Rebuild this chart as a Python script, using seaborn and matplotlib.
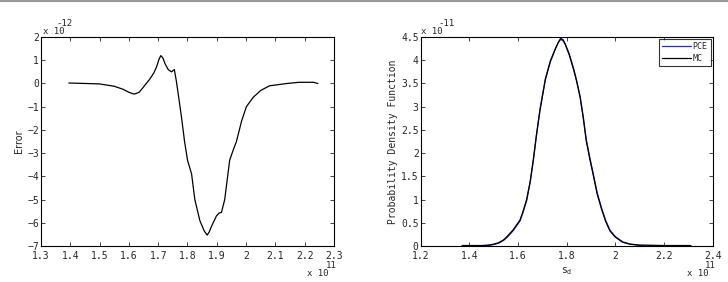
import numpy as np
import pandas as pd
import matplotlib
matplotlib.use("Agg")
import matplotlib.pyplot as plt
import seaborn as sns

# Left panel: error curve (x in units of 1e11, y in units of 1e-12)
err_x = [1.395, 1.45, 1.50, 1.55, 1.58, 1.60, 1.618, 1.635, 1.65, 1.672, 1.685, 1.694,
         1.703, 1.709, 1.716, 1.723, 1.734, 1.745, 1.755, 1.762, 1.77, 1.78, 1.79,
         1.80, 1.814, 1.825, 1.842, 1.857, 1.867, 1.874, 1.882, 1.899, 1.908, 1.916,
         1.927, 1.936, 1.944, 1.955, 1.967, 1.985, 2.001, 2.024, 2.05, 2.08, 2.14,
         2.18, 2.23, 2.245]
err_y = [0.02, 0.0, -0.02, -0.12, -0.25, -0.38, -0.46, -0.38, -0.15, 0.2, 0.45, 0.7,
         1.05, 1.2, 1.1, 0.86, 0.6, 0.5, 0.6, 0.1, -0.6, -1.5, -2.5,
         -3.3, -3.9, -5.0, -5.9, -6.35, -6.53, -6.4, -6.15, -5.7, -5.58, -5.55,
         -5.0, -4.1, -3.3, -2.9, -2.5, -1.6, -1.0, -0.6, -0.3, -0.1, 0.0,
         0.05, 0.05, 0.0]

# Right panel: PDFs (x in units of 1e11, y in units of 1e-11)
pdf_x = [1.37, 1.45, 1.478, 1.50, 1.52, 1.54, 1.554, 1.58, 1.608, 1.62, 1.635, 1.65,
         1.663, 1.675, 1.69, 1.712, 1.732, 1.753, 1.765, 1.775, 1.785, 1.793, 1.81,
         1.828, 1.84, 1.855, 1.868, 1.88, 1.895, 1.91, 1.925, 1.944, 1.96, 1.978,
         2.0, 2.03, 2.06, 2.1, 2.2, 2.31]
pce_y = [0.0, 0.0, 0.01, 0.03, 0.06, 0.12, 0.18, 0.33, 0.54, 0.72, 0.97, 1.38,
         1.85, 2.35, 2.95, 3.6, 3.98, 4.25, 4.38, 4.45, 4.42, 4.35, 4.14,
         3.83, 3.58, 3.22, 2.78, 2.3, 1.9, 1.53, 1.15, 0.8, 0.55, 0.34,
         0.2, 0.09, 0.04, 0.01, 0.0, 0.0]
mc_y = [0.01, 0.01, 0.02, 0.04, 0.07, 0.13, 0.2, 0.35, 0.56, 0.74, 1.0, 1.4,
        1.88, 2.38, 2.92, 3.58, 3.96, 4.24, 4.38, 4.47, 4.44, 4.36, 4.12,
        3.8, 3.56, 3.2, 2.75, 2.27, 1.87, 1.5, 1.12, 0.78, 0.53, 0.32,
        0.19, 0.08, 0.04, 0.02, 0.01, 0.01]

left_xticks = [1.3, 1.4, 1.5, 1.6, 1.7, 1.8, 1.9, 2.0, 2.1, 2.2, 2.3]
left_yticks = [-7, -6, -5, -4, -3, -2, -1, 0, 1, 2]
right_xticks = [1.2, 1.4, 1.6, 1.8, 2.0, 2.2, 2.4]
right_yticks = [0, 0.5, 1, 1.5, 2, 2.5, 3, 3.5, 4, 4.5]

sns.set_style("ticks")
plt.rcParams['font.family'] = ['DejaVu Sans Mono', 'DejaVu Sans']
plt.rcParams['font.size'] = 7

fig = plt.figure(figsize=(7.28, 2.82), dpi=100)
ax1 = fig.add_axes([0.0563, 0.1277, 0.4025, 0.741])
ax2 = fig.add_axes([0.578, 0.1277, 0.401, 0.741])

# top grey rule
fig.add_artist(plt.Line2D([0, 1], [0.997, 0.997], color='#999999', lw=1.5))

df_err = pd.DataFrame({"x": err_x, "y": err_y})
sns.lineplot(data=df_err, x="x", y="y", ax=ax1, color='black', lw=0.9)
ax1.set_xlim(1.3, 2.3)
ax1.set_ylim(-7, 2)
ax1.set_xticks(left_xticks)
ax1.set_xticklabels([f"{t:g}" for t in left_xticks])
ax1.set_yticks(left_yticks)
ax1.set_xlabel("")
ax1.set_ylabel("Error", fontfamily='DejaVu Sans', fontsize=7, labelpad=2)

df_pdf = pd.DataFrame({"x": pdf_x * 2, "y": pce_y + mc_y,
                       "series": ["PCE"] * len(pdf_x) + ["MC"] * len(pdf_x)})
sns.lineplot(data=df_pdf, x="x", y="y", hue="series", ax=ax2,
             palette={"PCE": "#2b2bbf", "MC": "black"}, lw=0.9)
ax2.set_xlim(1.2, 2.4)
ax2.set_ylim(0, 4.5)
ax2.set_xticks(right_xticks)
ax2.set_xticklabels([f"{t:g}" for t in right_xticks])
ax2.set_yticks(right_yticks)
ax2.set_yticklabels([f"{t:g}" for t in right_yticks])
ax2.set_xlabel("$\\mathregular{s_d}$", fontsize=7, labelpad=3)
ax2.set_ylabel("Probability Density Function", fontsize=7, labelpad=2)
leg = ax2.legend(loc='upper right', frameon=True, fancybox=False, fontsize=6,
                 handlelength=3.5, borderaxespad=0.2, borderpad=0.4,
                 labelspacing=0.3, handletextpad=0.2, edgecolor='black',
                 bbox_to_anchor=(1.0, 1.0))
leg.get_frame().set_linewidth(0.8)

for ax in (ax1, ax2):
    ax.tick_params(direction='in', length=3, width=0.6, top=True, right=True,
                   labelsize=7)
    ax.tick_params(axis='x', pad=3.5)
    ax.tick_params(axis='y', pad=1.5)
    for s in ax.spines.values():
        s.set_visible(True)
        s.set_linewidth(0.8)
        s.set_color('black')

# MATLAB-style exponent labels
fs = 6.5
fig.text(43 / 728, 1 - 32 / 282, "x 10", fontsize=fs, ha='left', va='center')
fig.text(56 / 728, 1 - 23 / 282, "-12", fontsize=fs, ha='left', va='center')
fig.text(421 / 728, 1 - 32 / 282, "x 10", fontsize=fs, ha='left', va='center')
fig.text(438 / 728, 1 - 23 / 282, "-11", fontsize=fs, ha='left', va='center')
fig.text(307 / 728, 1 - 273 / 282, "x 10", fontsize=fs, ha='left', va='center')
fig.text(326 / 728, 1 - 265 / 282, "11", fontsize=fs, ha='left', va='center')
fig.text(687 / 728, 1 - 273 / 282, "x 10", fontsize=fs, ha='left', va='center')
fig.text(705 / 728, 1 - 265 / 282, "11", fontsize=fs, ha='left', va='center')

fig.savefig("out.png", dpi=100)
